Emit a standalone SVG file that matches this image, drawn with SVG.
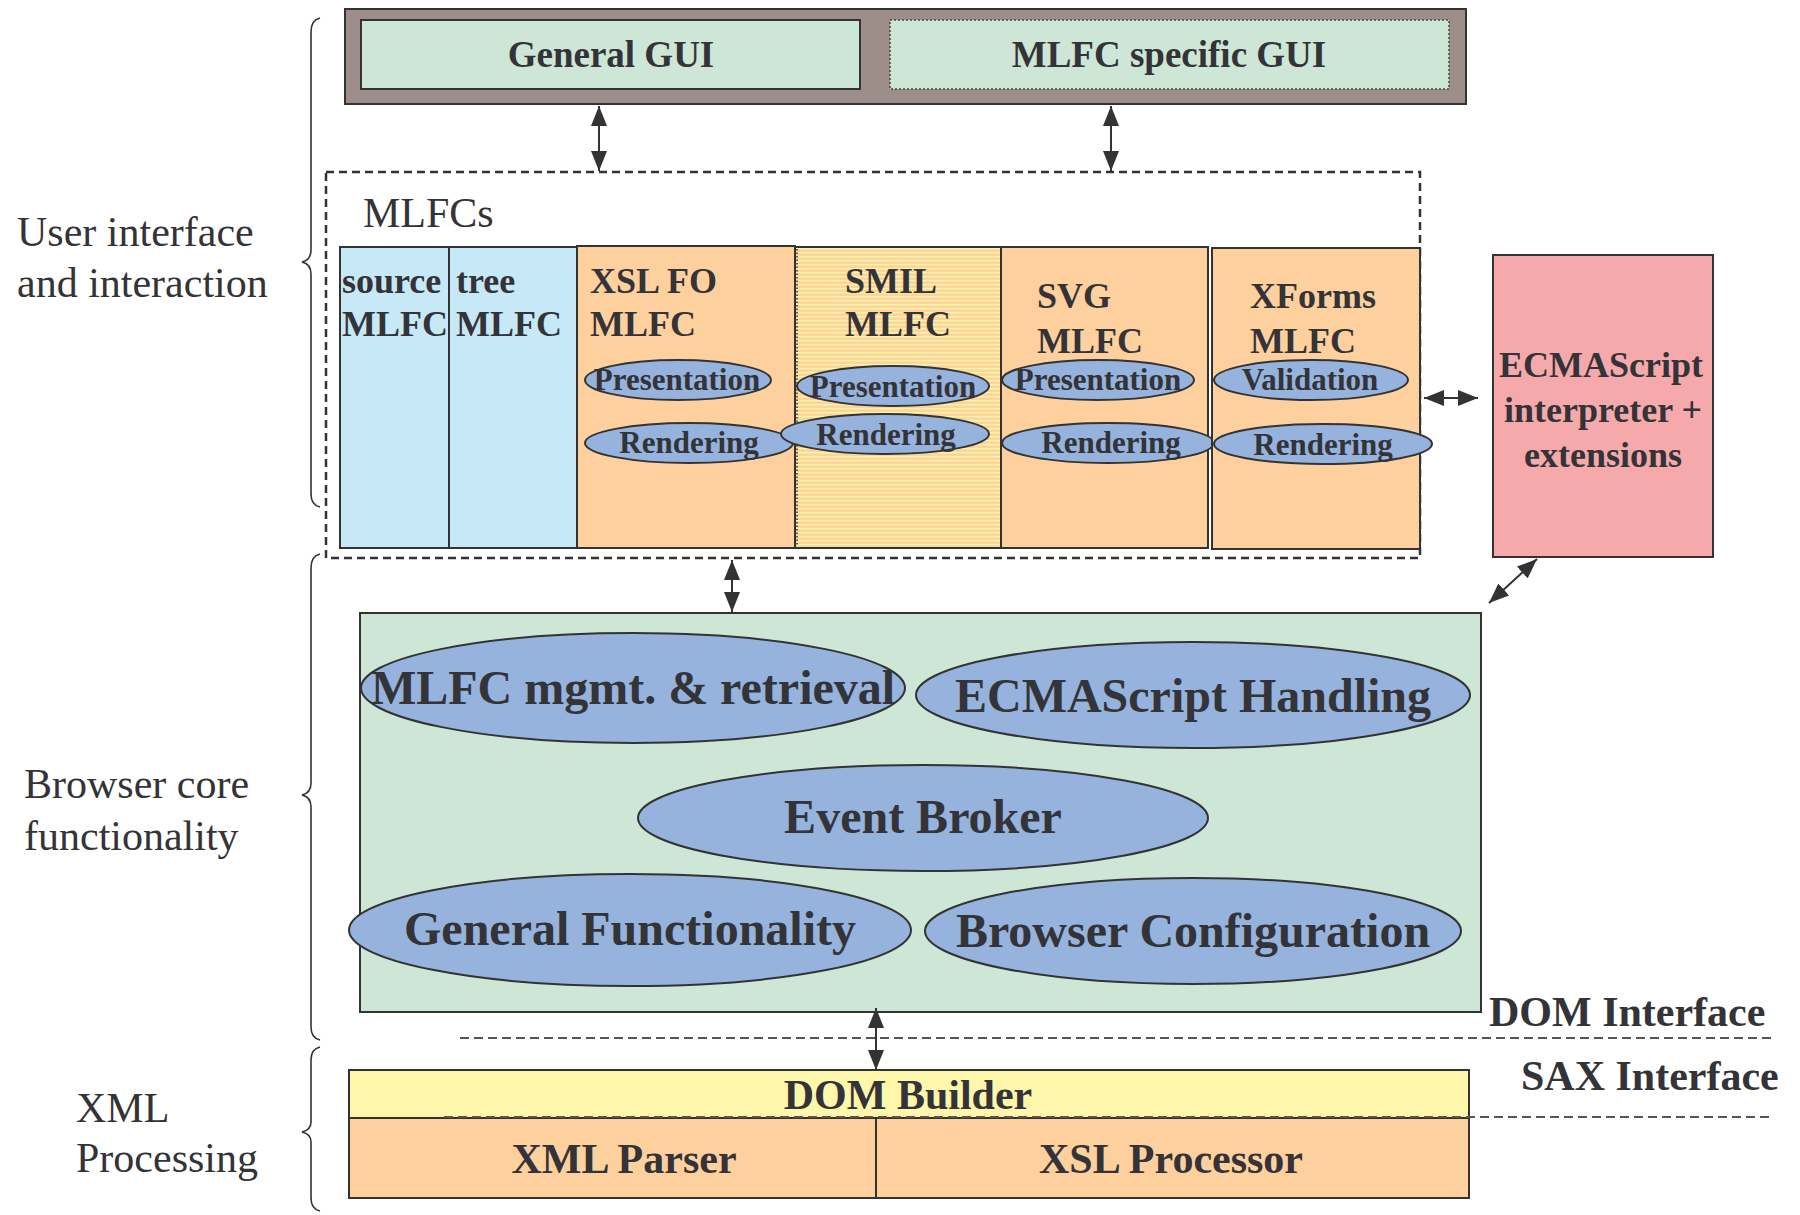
<svg xmlns="http://www.w3.org/2000/svg" width="1800" height="1215" viewBox="0 0 1800 1215">
<style>
text{font-family:"Liberation Serif","Times New Roman",serif;fill:#333338}
.b{font-weight:bold}
.lbl{font-size:42px}
.col{font-size:36px;font-weight:bold}
.el{font-size:31px;font-weight:bold}
.big{font-size:48px;font-weight:bold}
.bot{font-size:42px;font-weight:bold}
.gui{font-size:37px;font-weight:bold}
.brace{fill:none;stroke:#333;stroke-width:1.6}
.ell{fill:#95b3dc;stroke:#333;stroke-width:2}
.peach{fill:#fdd09d;stroke:#333;stroke-width:2}
.blue{fill:#c6e8f7;stroke:#333;stroke-width:2}
.green{fill:#cde6d5;stroke:#333;stroke-width:2}
.conn{stroke:#333;stroke-width:2;fill:none}
.dash{stroke:#555;stroke-width:2;stroke-dasharray:9 5;fill:none}
</style>
<defs>
<marker id="ah" viewBox="0 0 20 16" refX="20" refY="8" markerWidth="20" markerHeight="16" markerUnits="userSpaceOnUse" orient="auto-start-reverse">
<path d="M0,0 L20,8 L0,16 Z" fill="#333"/>
</marker>
<pattern id="stripes" width="8" height="4" patternUnits="userSpaceOnUse">
<rect width="8" height="4" fill="#fdd49b"/>
<rect width="8" height="1.4" fill="#fff4a8"/>
</pattern>
</defs>

<!-- Left labels and braces -->
<g id="label-ui">
<text class="lbl" x="17" y="246">User interface</text>
<text class="lbl" x="17" y="297">and interaction</text>
<path class="brace" d="M320,18 Q311,20 311,32 L311,250 Q311,260 302,262 Q311,264 311,274 L311,494 Q311,505 320,507"/>
</g>
<g id="label-core">
<text class="lbl" x="24" y="798">Browser core</text>
<text class="lbl" x="24" y="850">functionality</text>
<path class="brace" d="M320,554 Q311,556 311,568 L311,783 Q311,793 302,795 Q311,797 311,807 L311,1027 Q311,1038 320,1040"/>
</g>
<g id="label-xml">
<text class="lbl" x="76" y="1122">XML</text>
<text class="lbl" x="76" y="1172">Processing</text>
<path class="brace" d="M320,1047 Q311,1049 311,1060 L311,1122 Q311,1130 302,1132 Q311,1134 311,1142 L311,1198 Q311,1209 320,1211"/>
</g>

<!-- GUI -->
<g id="gui">
<rect x="345" y="9" width="1121" height="95" fill="#9e8e8a" stroke="#333" stroke-width="2"/>
<g id="general-gui">
<rect class="green" x="361" y="20" width="499" height="69"/>
<text class="gui" x="611" y="67" text-anchor="middle">General GUI</text>
</g>
<g id="mlfc-gui">
<rect x="890" y="20" width="559" height="69" fill="#cde6d5" stroke="#444" stroke-width="1.5" stroke-dasharray="2 2"/>
<text class="gui" x="1169" y="67" text-anchor="middle">MLFC specific GUI</text>
</g>
</g>

<!-- MLFCs container -->
<g id="mlfcs">
<rect x="326" y="172" width="1094" height="386" fill="none" stroke="#333" stroke-width="2.5" stroke-dasharray="8 5"/>
<text class="lbl" x="363" y="227">MLFCs</text>

<g id="source-mlfc">
<rect class="blue" x="340" y="247" width="109" height="301"/>
<text class="col" x="342" y="293">source</text>
<text class="col" x="342" y="336">MLFC</text>
</g>
<g id="tree-mlfc">
<rect class="blue" x="449" y="247" width="128" height="301"/>
<text class="col" x="456" y="293">tree</text>
<text class="col" x="456" y="336">MLFC</text>
</g>
<g id="xslfo-mlfc">
<rect class="peach" x="577" y="246" width="218" height="302"/>
<text class="col" x="590" y="293">XSL FO</text>
<text class="col" x="590" y="336">MLFC</text>
<ellipse class="ell" cx="678" cy="380" rx="93" ry="20"/>
<text class="el" x="677" y="390" text-anchor="middle">Presentation</text>
<ellipse class="ell" cx="689" cy="443" rx="104" ry="20"/>
<text class="el" x="689" y="453" text-anchor="middle">Rendering</text>
</g>
<g id="smil-mlfc">
<rect x="795" y="247" width="206" height="301" fill="url(#stripes)" stroke="#333" stroke-width="2"/>
<line x1="797" y1="249" x2="797" y2="546" stroke="#333" stroke-width="1.5" stroke-dasharray="1.5 2"/>
<text class="col" x="845" y="293">SMIL</text>
<text class="col" x="845" y="336">MLFC</text>
<ellipse class="ell" cx="893" cy="386" rx="96" ry="20"/>
<text class="el" x="893" y="397" text-anchor="middle">Presentation</text>
<ellipse class="ell" cx="885" cy="434" rx="104" ry="20"/>
<text class="el" x="886" y="445" text-anchor="middle">Rendering</text>
</g>
<g id="svg-mlfc">
<rect class="peach" x="1001" y="247" width="207" height="301"/>
<text class="col" x="1037" y="308">SVG</text>
<text class="col" x="1037" y="353">MLFC</text>
<ellipse class="ell" cx="1098" cy="380" rx="96" ry="20"/>
<text class="el" x="1098" y="390" text-anchor="middle">Presentation</text>
<ellipse class="ell" cx="1108" cy="443" rx="106" ry="20"/>
<text class="el" x="1111" y="453" text-anchor="middle">Rendering</text>
</g>
<g id="xforms-mlfc">
<rect class="peach" x="1212" y="248" width="208" height="301"/>
<text class="col" x="1250" y="308">XForms</text>
<text class="col" x="1250" y="353">MLFC</text>
<ellipse class="ell" cx="1311" cy="380" rx="97" ry="20"/>
<text class="el" x="1310" y="390" text-anchor="middle">Validation</text>
<ellipse class="ell" cx="1323" cy="444" rx="109" ry="20"/>
<text class="el" x="1323" y="455" text-anchor="middle">Rendering</text>
</g>
</g>

<!-- ECMAScript interpreter -->
<g id="ecmascript">
<rect x="1493" y="255" width="220" height="302" fill="#f5a9aa" stroke="#333" stroke-width="2"/>
<text class="col" x="1601" y="377" text-anchor="middle">ECMAScript</text>
<text class="col" x="1603" y="422" text-anchor="middle">interpreter +</text>
<text class="col" x="1603" y="467" text-anchor="middle">extensions</text>
</g>

<!-- Browser core -->
<g id="core">
<rect class="green" x="360" y="613" width="1121" height="399"/>
<g id="mlfc-mgmt">
<ellipse class="ell" cx="633" cy="688" rx="272" ry="55"/>
<text class="big" x="633" y="704" text-anchor="middle">MLFC mgmt. &amp; retrieval</text>
</g>
<g id="ecma-handling">
<ellipse class="ell" cx="1193" cy="695" rx="277" ry="53"/>
<text class="big" x="1193" y="712" text-anchor="middle">ECMAScript Handling</text>
</g>
<g id="event-broker">
<ellipse class="ell" cx="923" cy="818" rx="285" ry="53"/>
<text class="big" x="923" y="833" text-anchor="middle">Event Broker</text>
</g>
<g id="general-func">
<ellipse class="ell" cx="630" cy="930" rx="281" ry="56"/>
<text class="big" x="630" y="945" text-anchor="middle">General Functionality</text>
</g>
<g id="browser-config">
<ellipse class="ell" cx="1193" cy="931" rx="268" ry="53"/>
<text class="big" x="1193" y="947" text-anchor="middle">Browser Configuration</text>
</g>
</g>

<!-- Interfaces -->
<g id="interfaces">
<text class="bot" x="1489" y="1026">DOM Interface</text>
<line class="dash" x1="460" y1="1038" x2="1774" y2="1038"/>
<text class="bot" x="1521" y="1090">SAX Interface</text>
</g>

<!-- XML processing -->
<g id="xml">
<g id="dom-builder">
<rect x="349" y="1070" width="1120" height="48" fill="#fef6aa" stroke="#333" stroke-width="2"/>
<text class="bot" x="908" y="1109" text-anchor="middle">DOM Builder</text>
</g>
<g id="xml-parser">
<rect class="peach" x="349" y="1118" width="527" height="80"/>
<text class="bot" x="624" y="1173" text-anchor="middle">XML Parser</text>
</g>
<g id="xsl-processor">
<rect class="peach" x="876" y="1118" width="593" height="80"/>
<text class="bot" x="1171" y="1173" text-anchor="middle">XSL Processor</text>
</g>
<line class="dash" x1="444" y1="1117" x2="1771" y2="1117"/>
</g>

<!-- Connectors -->
<g id="connectors">
<line class="conn" x1="599" y1="106" x2="599" y2="171" marker-start="url(#ah)" marker-end="url(#ah)"/>
<line class="conn" x1="1111" y1="106" x2="1111" y2="171" marker-start="url(#ah)" marker-end="url(#ah)"/>
<line class="conn" x1="1424" y1="398" x2="1478" y2="398" marker-start="url(#ah)" marker-end="url(#ah)"/>
<line class="conn" x1="1537" y1="559" x2="1489" y2="603" marker-start="url(#ah)" marker-end="url(#ah)"/>
<line class="conn" x1="732" y1="560" x2="732" y2="612" marker-start="url(#ah)" marker-end="url(#ah)"/>
<line class="conn" x1="876" y1="1008" x2="876" y2="1070" marker-start="url(#ah)" marker-end="url(#ah)"/>
</g>
</svg>
